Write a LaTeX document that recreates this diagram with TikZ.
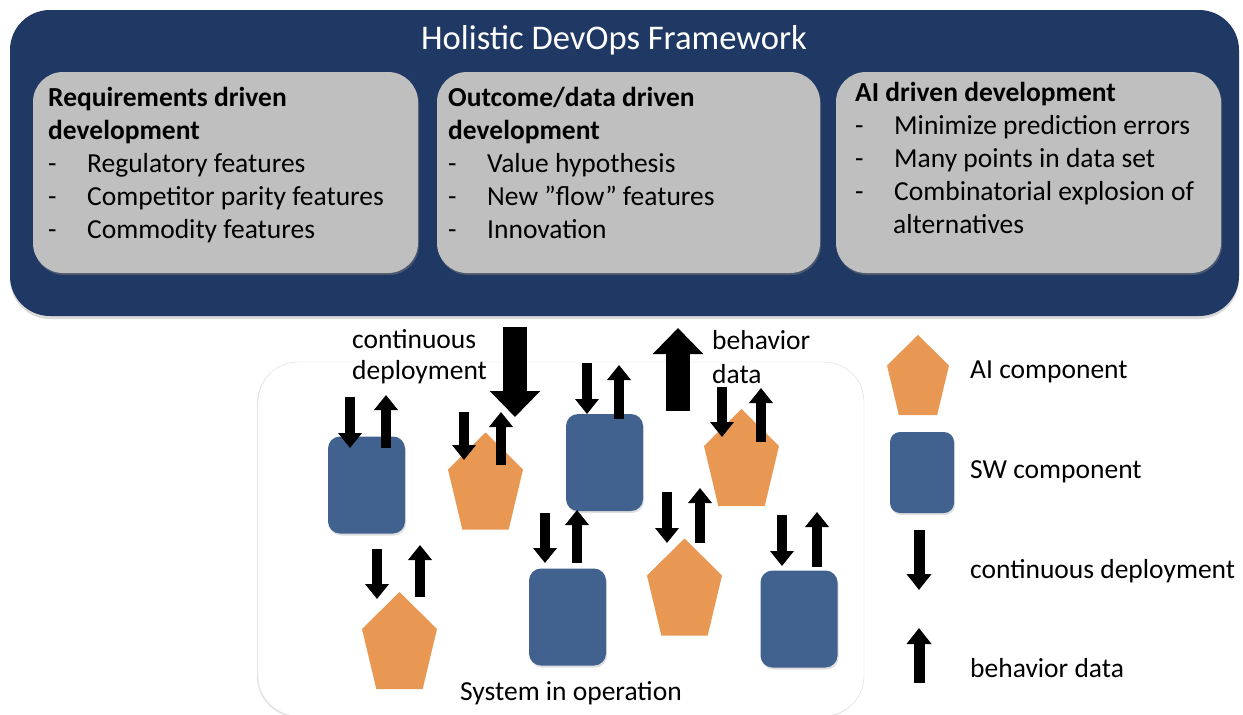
\documentclass[tikz,border=0pt]{standalone}
\usepackage{fontspec}
\setmainfont{Carlito}
\usetikzlibrary{arrows.meta,shadows}

\definecolor{frameblue}{HTML}{203864}
\definecolor{boxgray}{HTML}{BFBFBF}
\definecolor{swblue}{HTML}{41618F}
\definecolor{aiorange}{HTML}{E99853}

\newcommand\listdash{\makebox[39pt][l]{-}}

\tikzset{
  bodyfont/.style={font=\fontsize{27.5}{33}\selectfont},
  txt/.style={inner sep=0pt, anchor=base west, align=left},
  pane/.style={fill=boxgray, rounded corners=30pt,
    drop shadow={opacity=0.45, shadow xshift=1pt, shadow yshift=-2pt}},
  swbox/.style={rectangle, fill=swblue, rounded corners=12pt, inner sep=0pt,
    minimum width=77pt, minimum height=97pt,
    drop shadow={opacity=0.25, shadow xshift=1pt, shadow yshift=-2pt}},
  aipent/.pic={\fill[aiorange] (0,-48.5) -- (37.5,-11.5) -- (23.2,48.5)
    -- (-23.2,48.5) -- (-37.5,-11.5) -- cycle;},
  cdarrow/.style={line width=10pt, -{Triangle[width=23pt,length=15pt]}},
  keyarrow/.style={line width=11pt, -{Triangle[width=24pt,length=16pt]}},
  bigarrow/.style={line width=24pt, -{Triangle[width=49pt,length=26pt]}},
}

\begin{document}
\begin{tikzpicture}[x=1pt, y=-1pt, bodyfont]
  \useasboundingbox (0,0) rectangle (1243,715);

  % framework on top (base anchor = last line)
  \path[fill=frameblue, rounded corners=40pt,
    drop shadow={opacity=0.3, shadow xshift=0pt, shadow yshift=-3pt}]
    (10,10) rectangle (1239,316);
  \node[anchor=base, white, inner sep=0pt, font=\fontsize{34.6}{40}\selectfont]
    (title) at (614,49) {Holistic DevOps Framework};
  \path[pane] (33,72) rectangle (418,273);
  \path[pane] (437,72) rectangle (820,273);
  \path[pane] (836,72) rectangle (1221,273);
  \node[txt] (req) at (48,238) {\textbf{Requirements driven}\\\textbf{development}\\
    \listdash Regulatory features\\\listdash Competitor parity features\\
    \listdash Commodity features};
  \node[txt] (outc) at (448,238) {\textbf{Outcome/data driven}\\\textbf{development}\\
    \listdash Value hypothesis\\\listdash New "flow" features\\\listdash Innovation};
  \node[txt] (aidev) at (855,233) {\textbf{AI driven development}\\
    \listdash Minimize prediction errors\\\listdash Many points in data set\\
    \listdash Combinatorial explosion of\\\hspace*{38pt}alternatives};

  % system in operation
  \path[fill=white, draw=black!15, rounded corners=40pt,
    drop shadow={opacity=0.2, shadow xshift=-1pt, shadow yshift=-1pt}]
    (258,362) rectangle (864,716);
  \node[txt] (sysop) at (460,700) {System in operation};

  \node[swbox] (sw1) at (366.5,485) {};
  \node[swbox] (sw2) at (604.5,462.5) {};
  \node[swbox] (sw3) at (567.5,617) {};
  \node[swbox] (sw4) at (799,619) {};
  \pic (ai1) at (485.5,481) {aipent};
  \pic (ai2) at (741.5,457.5) {aipent};
  \pic (ai3) at (399.5,640.5) {aipent};
  \pic (ai4) at (684.5,587) {aipent};

  \foreach \xd/\ya/\yb/\xu/\yc/\ye in {350/397/448/386/448/395,
      464/412/460/501/465/412, 587/363/414/619/419/365,
      722/387/437/761/442/388, 377/549/599/420/597/545,
      545/513/563/577/563/510, 667/492/543/700/543/488,
      782/515/566/817/567/512}{
    \draw[cdarrow] (\xd,\ya) -- (\xd,\yb);
    \draw[cdarrow] (\xu,\yc) -- (\xu,\ye);
  }

  % deployment and data flow
  \coordinate (cdtop) at (515,327);
  \coordinate (cdtip) at (515,417);
  \coordinate (bdbot) at (678,411);
  \coordinate (bdtip) at (678,328);
  \draw[bigarrow] (cdtop) -- (cdtip);
  \draw[bigarrow] (bdbot) -- (bdtip);
  \node[txt, font=\fontsize{27.5}{31}\selectfont] (cdlabel) at (352,379) {continuous\\deployment};
  \node[txt, font=\fontsize{27.5}{34}\selectfont] (bdlabel) at (712,383) {behavior\\data};

  % legend
  \pic[scale=0.826] (keyai) at (918,375) {aipent};
  \node[swbox, minimum width=64pt, minimum height=81pt, rounded corners=10pt]
    (keysw) at (922,472.5) {};
  \draw[keyarrow] (919,530) -- (919,590);
  \draw[keyarrow] (919,683) -- (919,628);
  \node[txt] (keyailab) at (970,378) {AI component};
  \node[txt] (keyswlab) at (970,478) {SW component};
  \node[txt] (keycdlab) at (970,578) {continuous deployment};
  \node[txt] (keybdlab) at (970,677) {behavior data};
\end{tikzpicture}
\end{document}
